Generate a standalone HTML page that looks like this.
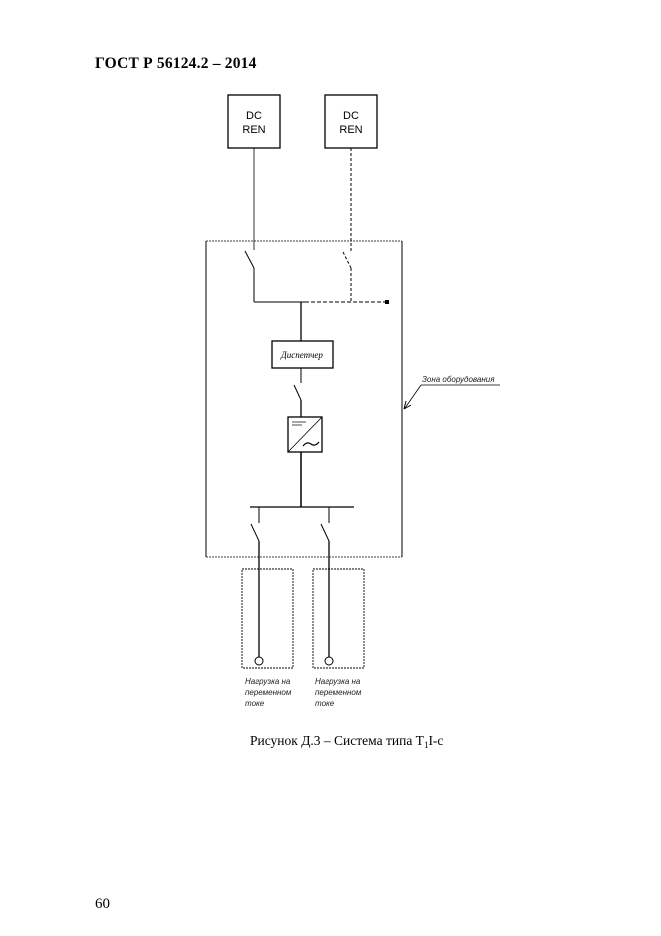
<!DOCTYPE html>
<html><head><meta charset="utf-8"><style>
body{margin:0;background:#fff;}
svg{display:block;}
</style></head><body>
<svg width="661" height="936" xmlns="http://www.w3.org/2000/svg">
<text x="95" y="68" font-family="Liberation Serif" font-weight="bold" font-size="15.5" letter-spacing="0.2">ГОСТ Р 56124.2  – 2014</text>
<g fill="none" stroke="#000">
<rect x="228" y="95" width="52" height="53" stroke-width="1.3"/>
<rect x="325" y="95" width="52" height="53" stroke-width="1.3"/>
<line x1="254" y1="148" x2="254" y2="250" stroke-width="0.8"/>
<line x1="351" y1="148" x2="351" y2="252" stroke-width="1" stroke-dasharray="3,2"/>
<line x1="206" y1="241" x2="402" y2="241" stroke-width="0.8" stroke-dasharray="2,1"/>
<line x1="206" y1="557" x2="402" y2="557" stroke-width="0.8" stroke-dasharray="2,1"/>
<line x1="206" y1="241" x2="206" y2="557" stroke-width="1"/>
<line x1="402" y1="241" x2="402" y2="557" stroke-width="1"/>
<line x1="245" y1="251" x2="254" y2="268" stroke-width="1"/>
<line x1="254" y1="268" x2="254" y2="302" stroke-width="1"/>
<line x1="343" y1="252" x2="351" y2="268" stroke-width="1" stroke-dasharray="3,2"/>
<line x1="351" y1="268" x2="351" y2="302" stroke-width="1" stroke-dasharray="3,2"/>
<line x1="254" y1="302" x2="305" y2="302" stroke-width="1"/>
<line x1="305" y1="302" x2="386" y2="302" stroke-width="1" stroke-dasharray="4,2"/>
<line x1="301" y1="302" x2="301" y2="341" stroke-width="1.3"/>
<rect x="272" y="341" width="61" height="27" stroke-width="1.3"/>
<line x1="301" y1="368" x2="301" y2="383" stroke-width="1"/>
<line x1="294" y1="385" x2="301" y2="400" stroke-width="1"/>
<line x1="301" y1="400" x2="301" y2="417" stroke-width="1.3"/>
<rect x="288" y="417" width="34" height="35" stroke-width="1.3"/>
<line x1="288" y1="452" x2="322" y2="417" stroke-width="0.8"/>
<line x1="292" y1="422" x2="306" y2="422" stroke-width="0.7"/>
<line x1="292" y1="425" x2="302" y2="425" stroke-width="0.7"/>
<path d="M303 446 q4 -5 8 -2 t8 -2" stroke-width="1.2"/>
<line x1="301" y1="452" x2="301" y2="507" stroke-width="1.5"/>
<line x1="250" y1="507" x2="354" y2="507" stroke-width="1.2"/>
<line x1="259" y1="507" x2="259" y2="523" stroke-width="1"/>
<line x1="329" y1="507" x2="329" y2="523" stroke-width="1"/>
<line x1="251" y1="524" x2="259" y2="541" stroke-width="1"/>
<line x1="321" y1="524" x2="329" y2="541" stroke-width="1"/>
<line x1="259" y1="541" x2="259" y2="657" stroke-width="1.3"/>
<line x1="329" y1="541" x2="329" y2="657" stroke-width="1.3"/>
<circle cx="259" cy="661" r="4" stroke-width="1"/>
<circle cx="329" cy="661" r="4" stroke-width="1"/>
<rect x="242" y="569" width="51" height="99" stroke-width="0.9" stroke-dasharray="2,1"/>
<rect x="313" y="569" width="51" height="99" stroke-width="0.9" stroke-dasharray="2,1"/>
<line x1="421" y1="385" x2="500" y2="385" stroke-width="0.7"/>
<line x1="421" y1="385" x2="405" y2="408" stroke-width="0.8"/>
<path d="M404 409 l2 -8 M404 409 l7 -4" stroke-width="1"/>
</g>
<rect x="385" y="300" width="4" height="4" fill="#000"/>
<g font-family="Liberation Sans" font-size="11" text-anchor="middle" fill="#000">
<text x="254" y="119">DC</text><text x="254" y="133">REN</text>
<text x="351" y="119">DC</text><text x="351" y="133">REN</text>
</g>
<g font-family="Liberation Serif" font-style="italic" font-size="9" fill="#000">
<text x="302" y="358" text-anchor="middle">Диспетчер</text>
</g>
<g font-family="Liberation Sans" font-style="italic" font-size="8" fill="#222">
<text x="422" y="382">Зона оборудования</text>
<text x="245" y="684">Нагрузка на</text><text x="245" y="695">переменном</text><text x="245" y="706">токе</text>
<text x="315" y="684">Нагрузка на</text><text x="315" y="695">переменном</text><text x="315" y="706">токе</text>
</g>
<text x="250" y="745" font-family="Liberation Serif" font-size="13.5">Рисунок Д.3 – Система типа Т<tspan font-size="9" dy="3">1</tspan><tspan dy="-3">I-с</tspan></text>
<text x="95" y="908" font-family="Liberation Serif" font-size="15">60</text>
</svg>
</body></html>
